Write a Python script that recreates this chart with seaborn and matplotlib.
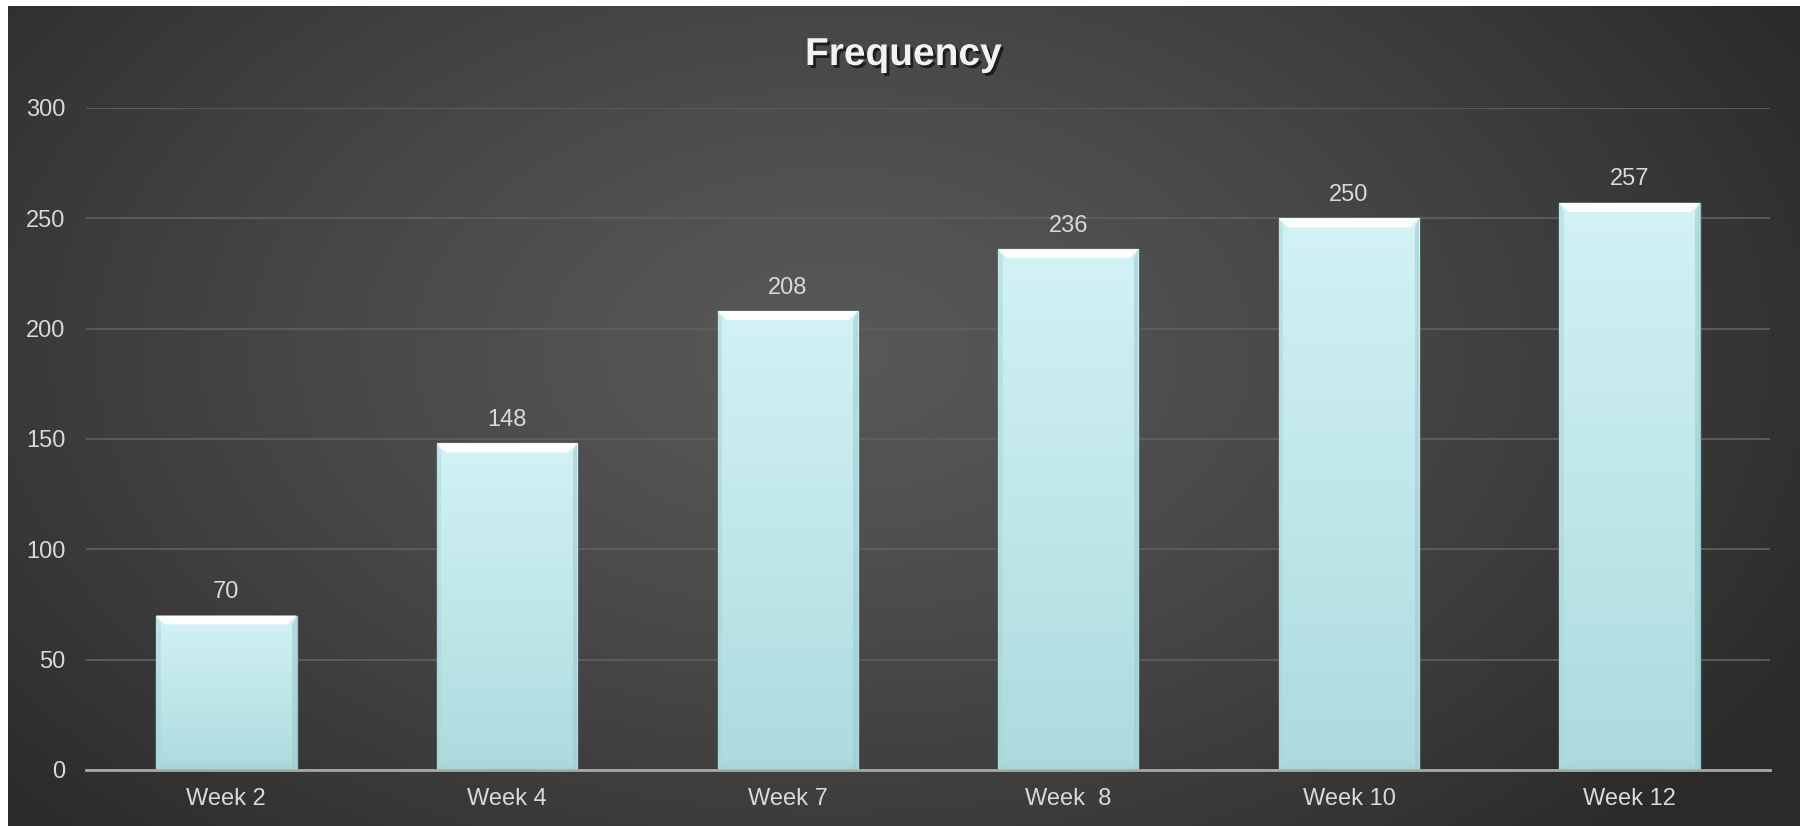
import numpy as np
import pandas as pd
import matplotlib
matplotlib.use("Agg")
import matplotlib.pyplot as plt
import seaborn as sns
from matplotlib.patches import Polygon
from matplotlib import patheffects as pe

categories = ["Week 2", "Week 4", "Week 7", "Week  8", "Week 10", "Week 12"]
values = [70, 148, 208, 236, 250, 257]
y_ticks = [0, 50, 100, 150, 200, 250, 300]
title = "Frequency"

sns.set_theme(style="dark")
plt.rcParams["font.family"] = ["Liberation Sans", "DejaVu Sans"]

W, H = 1803, 826
fig = plt.figure(figsize=(W / 100, H / 100), dpi=100, facecolor="white")

# background radial gradient
bg = fig.add_axes([8 / W, 0, (1800 - 8) / W, (H - 6) / H])
bg.set_axis_off()
yy, xx = np.mgrid[0:1:400j, 0:1:800j]
r = np.sqrt(((xx - 0.46) / 0.62) ** 2 + ((yy - 0.42) / 0.85) ** 2)
val = (88 - 46 * np.clip(r, 0, 1) ** 1.3) / 255.0
img = np.dstack([val, val, val])
bg.imshow(img, extent=[0, 1, 0, 1], aspect="auto", origin="upper")
bg.set_xlim(0, 1); bg.set_ylim(0, 1)

ax = fig.add_axes([86 / W, 56 / H, (1770 - 86) / W, 662 / H])
ax.patch.set_alpha(0)
df = pd.DataFrame({"week": categories, "freq": values})
sns.barplot(data=df, x="week", y="freq", ax=ax, width=0.5, color="#c5ebee",
            saturation=1, zorder=3)

# gradient + bevels
grad = np.linspace(0, 1, 256)[:, None]
top_c = np.array([0xd3, 0xf2, 0xf5]) / 255
bot_c = np.array([0xad, 0xdb, 0xde]) / 255
gimg = top_c[None, None, :] * (1 - grad[:, :, None]) + bot_c[None, None, :] * grad[:, :, None]
px_x = 1 / 280.7
px_y = 300 / 662
for p in ax.patches:
    x0, y0 = p.get_x(), p.get_y()
    w, h = p.get_width(), p.get_height()
    x1 = x0 + w
    p.set_edgecolor("#8dbfc3")
    p.set_linewidth(1.0)
    im = ax.imshow(gimg, extent=[x0, x1, 0, h], aspect="auto", origin="upper", zorder=3.1)
    im.set_clip_path(p)
    dx, dy = 9 * px_x, 9 * px_y
    ax.add_patch(Polygon([(x0, h), (x1, h), (x1 - dx, h - dy), (x0 + dx, h - dy)],
                         closed=True, facecolor="white", edgecolor="none", alpha=0.95, zorder=3.3))
    ax.add_patch(Polygon([(x1, h), (x1, 0), (x1 - dx * 0.5, 0), (x1 - dx * 0.5, h - dy)],
                         closed=True, facecolor="#9ccdd1", edgecolor="none", alpha=0.6, zorder=3.2))
    ax.add_patch(Polygon([(x0, h), (x0, 0), (x0 + dx * 0.5, 0), (x0 + dx * 0.5, h - dy)],
                         closed=True, facecolor="#a9d6d9", edgecolor="none", alpha=0.5, zorder=3.2))
    ax.add_patch(Polygon([(x0, 0), (x1, 0), (x1 - dx, dy), (x0 + dx, dy)],
                         closed=True, facecolor="#a3d1d4", edgecolor="none", alpha=0.45, zorder=3.2))

ax.set_xlim(-0.5, len(categories) - 0.5)
ax.set_ylim(0, 300)
ax.set_yticks(y_ticks)
ax.set_xlabel("")
ax.set_ylabel("")
ax.yaxis.grid(True, color="#5e5e5e", linewidth=1.3, zorder=0)
ax.xaxis.grid(False)
ax.set_axisbelow(True)
for s in ["top", "right", "left"]:
    ax.spines[s].set_visible(False)
ax.spines["bottom"].set_color("#a8a8a8")
ax.spines["bottom"].set_linewidth(2)
ax.spines["bottom"].set_zorder(5)
ax.tick_params(axis="both", length=0, labelsize=17, labelcolor="#d9d9d9")
ax.tick_params(axis="y", pad=15)
ax.tick_params(axis="x", pad=13)

ax.bar_label(ax.containers[0], labels=[str(v) for v in values], padding=9,
             fontsize=17, color="#d9d9d9", zorder=6)

fig.text(0.501, 1 - 55 / H, title, ha="center", va="center", fontsize=28,
         fontweight="bold", color="#f2f2f2",
         path_effects=[pe.withSimplePatchShadow(offset=(2, -2), shadow_rgbFace="black", alpha=0.6)])

fig.savefig("out.png", dpi=100, facecolor=fig.get_facecolor())
